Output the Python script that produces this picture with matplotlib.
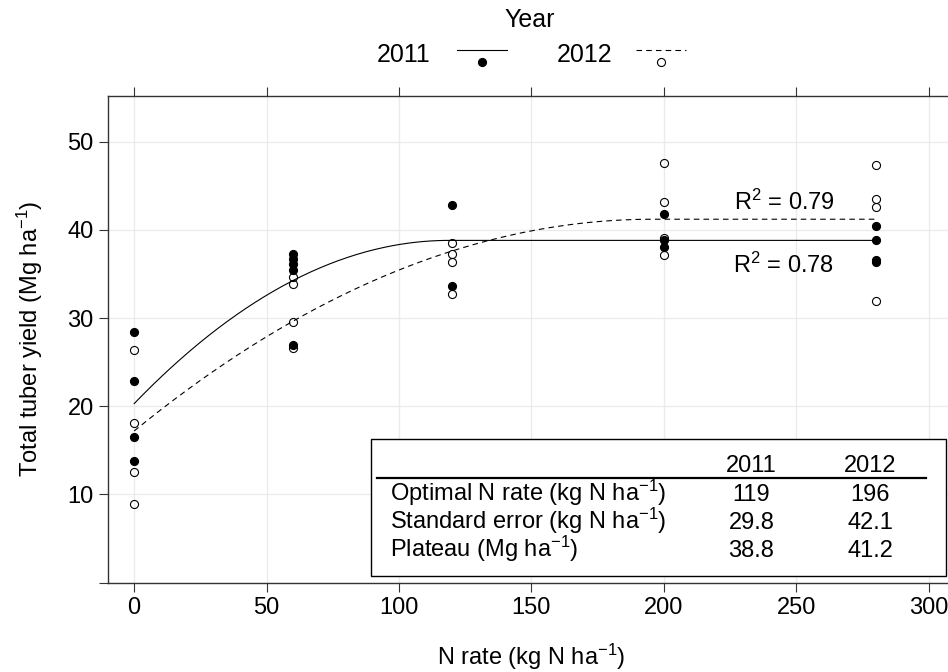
import numpy as np
import matplotlib
matplotlib.use("Agg")
import matplotlib.pyplot as plt
from matplotlib.patches import Rectangle

plt.rcParams['font.family'] = ['Liberation Sans', 'DejaVu Sans']
plt.rcParams['mathtext.fontset'] = 'custom'
plt.rcParams['mathtext.rm'] = 'Liberation Sans'
plt.rcParams['mathtext.it'] = 'Liberation Sans:italic'
plt.rcParams['lines.scale_dashes'] = False

# --- dados: produtividade por dose de N e ano ---
n_2011 = [0, 0, 0, 0, 60, 60, 60, 60, 60, 120, 120, 200, 200, 200, 280, 280, 280, 280]
yield_2011 = [28.4, 22.9, 16.5, 13.8, 37.3, 36.7, 36.1, 35.5, 26.9, 42.8, 33.6,
              41.8, 38.9, 38.0, 40.4, 38.9, 36.6, 36.3]

n_2012 = [0, 0, 0, 0, 60, 60, 60, 60, 120, 120, 120, 120, 200, 200, 200, 200, 280, 280, 280, 280]
yield_2012 = [26.4, 18.1, 12.5, 8.9, 34.6, 33.9, 29.6, 26.6, 38.5, 37.3, 36.3, 32.7,
              47.6, 43.1, 39.1, 37.1, 47.4, 43.5, 42.6, 31.9]

# modelo quadrático-platô (intercepto estimado; ótimo e platô da tabela)
intercept_2011 = 20.3
intercept_2012 = 17.2
optimal_n = {'2011': 119, '2012': 196}
std_error = {'2011': 29.8, '2012': 42.1}
plateau = {'2011': 38.8, '2012': 41.2}
r2 = {'2011': 0.78, '2012': 0.79}

table_rows = [r'Optimal N rate (kg N ha$^{-1}$)',
              r'Standard error (kg N ha$^{-1}$)',
              r'Plateau (Mg ha$^{-1}$)']

x_ticks = [0, 50, 100, 150, 200, 250, 300]
y_ticks = [0, 10, 20, 30, 40, 50]
y_ticklabels = ['', '10', '20', '30', '40', '50']


def quad_plateau(x, a, x0, p):
    x = np.asarray(x, dtype=float)
    return np.where(x < x0, p - (p - a) * (1 - x / x0) ** 2, p)


FS = 17      # eixos, tabela e R2
FS_LEG = 18  # legenda
W, H = 948, 672
fig = plt.figure(figsize=(W / 100, H / 100), dpi=100)

# painel principal (a borda direita fica fora da figura)
left, right, top, bottom = 107.7, 955.0, 95.7, 582.7
ax = fig.add_axes([left / W, 1 - bottom / H, (right - left) / W, (bottom - top) / H])
ax.set_xlim(-10, 310)
ax.set_ylim(0, 55.2)

ax.set_xticks(x_ticks)
ax.set_yticks(y_ticks)
ax.set_yticklabels(y_ticklabels)
ax.grid(True, color='#ebebeb', lw=1.0, zorder=0)
ax.set_axisbelow(True)
for s in ax.spines.values():
    s.set_color('#333333')
    s.set_linewidth(1.0)
ax.tick_params(axis='both', which='both', direction='out', length=6.5, width=0.8,
               color='#333333', labelsize=FS, labelcolor='black', pad=3.5,
               top=True, right=True)

xs = np.linspace(0, 280, 400)
ax.plot(xs, quad_plateau(xs, intercept_2011, optimal_n['2011'], plateau['2011']),
        color='black', lw=0.8, zorder=2)
ax.plot(xs, quad_plateau(xs, intercept_2012, optimal_n['2012'], plateau['2012']),
        color='black', lw=0.8, ls=(0, (4.0, 3.0)), zorder=2)

ax.plot(n_2011, yield_2011, 'o', ms=5.8, mfc='black', mec='black', mew=0.8, zorder=3)
ax.plot(n_2012, yield_2012, 'o', ms=5.8, mfc='none', mec='black', mew=0.8, zorder=3)

ax.text(264.5, 42.2, r'R$^{2}$ = %.2f' % r2['2012'], fontsize=FS, ha='right', va='baseline')
ax.text(264.5, 35.1, r'R$^{2}$ = %.2f' % r2['2011'], fontsize=FS, ha='right', va='baseline')

ax.set_xlabel(r'N rate (kg N ha$^{-1}$)', fontsize=FS)
ax.set_ylabel(r'Total tuber yield (Mg ha$^{-1}$)', fontsize=FS)
ax.xaxis.set_label_coords((531 - left) / (right - left), -(642 - bottom) / (bottom - top))
ax.yaxis.set_label_coords((45 - left) / (right - left), 0.5)

# camada de sobreposição em pixels: legenda e tabela
ov = fig.add_axes([0, 0, 1, 1], zorder=5)
ov.set_xlim(0, W)
ov.set_ylim(H, 0)
ov.axis('off')
ov.patch.set_visible(False)

ov.text(530, 26.7, 'Year', fontsize=FS_LEG, ha='center', va='baseline')
ov.text(376.7, 61.7, '2011', fontsize=FS_LEG, ha='left', va='baseline')
ov.plot([456.7, 506.7], [50, 50], color='black', lw=0.8)
ov.plot([481.7], [62.3], 'o', ms=5.8, mfc='black', mec='black', mew=0.8)
ov.text(556.7, 61.7, '2012', fontsize=FS_LEG, ha='left', va='baseline')
ov.plot([636, 686], [50, 50], color='black', lw=0.8, ls=(0, (4.0, 3.0)))
ov.plot([660.7], [62.3], 'o', ms=5.8, mfc='none', mec='black', mew=0.8)

ov.add_patch(Rectangle((371.2, 439.3), 946 - 371.2, 575.7 - 439.3,
                       facecolor='white', edgecolor='black', lw=1.0))
ov.plot([376.8, 926.2], [477.7, 477.7], color='black', lw=1.6)
ov.text(751.4, 472.3, '2011', fontsize=FS, ha='center', va='baseline')
ov.text(870, 472.3, '2012', fontsize=FS, ha='center', va='baseline')
row_base = [501, 529, 556.7]
col_2011 = ['%d' % optimal_n['2011'], '%.1f' % std_error['2011'], '%.1f' % plateau['2011']]
col_2012 = ['%d' % optimal_n['2012'], '%.1f' % std_error['2012'], '%.1f' % plateau['2012']]
for lab, v1, v2, yb in zip(table_rows, col_2011, col_2012, row_base):
    ov.text(390.5, yb, lab, fontsize=FS, ha='left', va='baseline')
    ov.text(751.4, yb, v1, fontsize=FS, ha='center', va='baseline')
    ov.text(870, yb, v2, fontsize=FS, ha='center', va='baseline')

fig.savefig('out.png', dpi=100)
